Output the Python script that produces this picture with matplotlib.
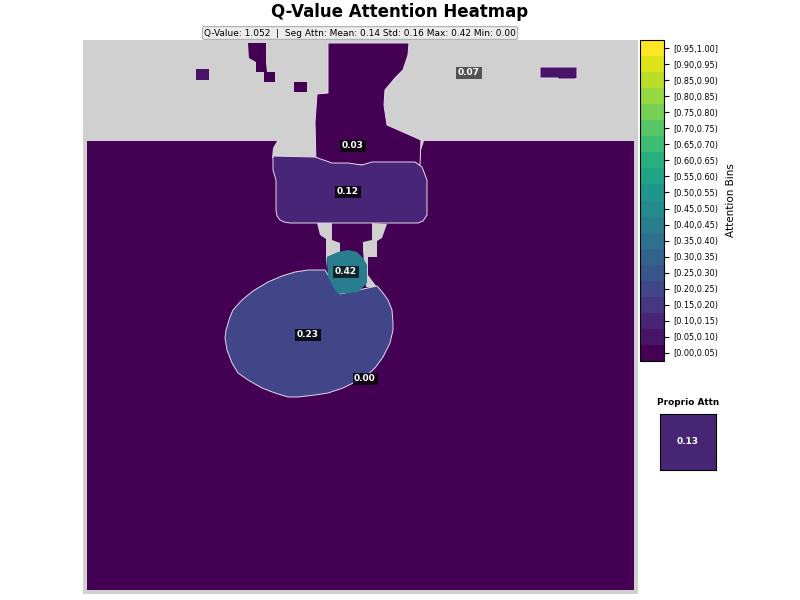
import matplotlib
matplotlib.use('Agg')
import matplotlib.pyplot as plt
from matplotlib.colors import BoundaryNorm
from matplotlib.cm import ScalarMappable
import numpy as np

# segment outlines, in picture pixels
floor_outline = [(87, 141), (277, 141), (273, 148), (272, 158), (420, 158), (421, 150), (424, 141),
                 (634, 141), (634, 590), (87, 590)]
arm_outline = [(328, 43), (409, 43), (408, 55), (403, 70), (395, 78), (385, 90), (384, 105), (387, 125),
               (403, 132), (421, 140), (420, 165), (316, 165), (315, 122), (317, 94), (328, 93)]
box_outline = [(273, 156), (315, 157), (332, 163), (348, 163), (362, 165), (372, 162), (415, 162),
               (422, 167), (427, 180), (427, 215), (423, 221), (418, 223), (290, 223), (284, 222),
               (280, 220), (277, 216), (276, 210), (276, 180), (273, 170)]
neck_left = [(317, 223), (332, 223), (332, 240), (340, 243), (340, 252), (327, 257), (326, 270), (326, 239),
             (320, 235)]
neck_right = [(372, 223), (387, 224), (382, 238), (377, 241), (377, 257), (368, 257), (368, 275), (377, 287),
              (366, 287), (363, 250), (363, 242), (372, 240)]
ellipse_outline = [(325, 270), (308, 270), (295, 272), (282, 276), (268, 282), (253, 291), (242, 300),
                   (233, 310), (230, 317), (226, 330), (225, 338), (227, 350), (232, 363), (238, 373),
                   (248, 380), (262, 388), (275, 393), (288, 397), (298, 397), (315, 395), (328, 393),
                   (343, 388), (355, 382), (365, 377), (375, 368), (383, 357), (390, 343), (393, 330),
                   (393, 323), (392, 310), (388, 300), (383, 293), (377, 286), (340, 294)]
teal_outline = [(327, 257), (338, 252), (348, 250), (357, 252), (363, 258), (367, 265), (367, 283), (358, 292),
                (338, 294), (335, 290), (328, 277)]
bit_a = [(248, 43), (266, 43), (266, 63), (267, 72), (275, 72), (275, 82), (264, 82), (264, 72), (256, 72),
         (256, 62), (249, 58)]
bit_b = [(196, 69), (209, 69), (209, 80), (196, 80)]
bit_c = [(294, 82), (307, 82), (307, 92), (294, 92)]
bit_d = [(540, 67), (577, 67), (577, 78), (575, 79), (558, 79), (558, 78), (540, 78)]

floor_value = 0.00
arm_value = 0.03
box_value = 0.12
ellipse_value = 0.23
teal_value = 0.42
bit_value = 0.07
proprio_value = 0.13

labels = ['0.03', '0.12', '0.42', '0.23', '0.00', '0.07']
label_x = [353, 348, 346, 308, 365, 469]
label_y = [146, 192, 272, 335, 379, 73]
label_alpha = [0.8, 0.8, 0.7, 0.8, 0.8, 0.6]

bin_edges = np.arange(21) * 0.05
bin_labels = ['[0.00,0.05)', '[0.05,0.10)', '[0.10,0.15)', '[0.15,0.20)', '[0.20,0.25)', '[0.25,0.30)',
              '[0.30,0.35)', '[0.35,0.40)', '[0.40,0.45)', '[0.45,0.50)', '[0.50,0.55)', '[0.55,0.60)',
              '[0.60,0.65)', '[0.65,0.70)', '[0.70,0.75)', '[0.75,0.80)', '[0.80,0.85)', '[0.85,0.90)',
              '[0.90,0.95)', '[0.95,1.00]']

cmap = plt.get_cmap('viridis', 20)
norm = BoundaryNorm(bin_edges, 20)
W, H = 800, 600
GRAY = '#d0d0d0'
EDGE = '#e6d8ee'


def px_axes(x0, y0, x1, y1):
    return fig.add_axes([x0 / W, 1 - y1 / H, (x1 - x0) / W, (y1 - y0) / H])


def draw(outline, color, edge='none'):
    xs, ys = zip(*outline)
    ax.fill(xs, ys, facecolor=color, edgecolor=edge, linewidth=0.7)


fig = plt.figure(figsize=(8, 6), dpi=100)

ax = px_axes(83, 40, 638, 594)
ax.set_xlim(83, 638)
ax.set_ylim(594, 40)
ax.set_facecolor(GRAY)
ax.set_xticks([])
ax.set_yticks([])
for s in ax.spines.values():
    s.set_visible(False)

draw(floor_outline, cmap(norm(floor_value)))
draw(arm_outline, cmap(norm(arm_value)), EDGE)
draw(box_outline, cmap(norm(box_value)), EDGE)
draw(neck_left, GRAY)
draw(neck_right, GRAY)
draw(ellipse_outline, cmap(norm(ellipse_value)), EDGE)
draw(teal_outline, cmap(norm(teal_value)))
draw(bit_a, cmap(norm(floor_value)))
draw(bit_b, cmap(norm(bit_value)))
draw(bit_c, cmap(norm(floor_value)))
draw(bit_d, cmap(norm(bit_value)), EDGE)

for t, x, y, a in zip(labels, label_x, label_y, label_alpha):
    ax.text(x, y, t, color='white', fontsize=6.5, fontweight='bold', ha='center', va='center',
            bbox=dict(facecolor='black', alpha=a, edgecolor='none', pad=1.2))

fig.text(0.5, 1 - 12 / H, 'Q-Value Attention Heatmap', fontsize=12, fontweight='bold', ha='center', va='center')
fig.text(360 / W, 1 - 33 / H, 'Q-Value: 1.052  |  Seg Attn: Mean: 0.14 Std: 0.16 Max: 0.42 Min: 0.00',
         fontsize=6.5, ha='center', va='center',
         bbox=dict(boxstyle='round,pad=0.2', facecolor='#ececec', edgecolor='#999999', linewidth=0.6))

cax = px_axes(640, 40, 664, 361)
sm = ScalarMappable(norm=norm, cmap=cmap)
cbar = fig.colorbar(sm, cax=cax, spacing='proportional')
cbar.set_ticks((bin_edges[:-1] + bin_edges[1:]) / 2)
cbar.set_ticklabels(bin_labels)
cbar.ax.tick_params(labelsize=5.9, length=3.5, width=0.8, pad=3)
cbar.ax.minorticks_off()
cbar.set_label('Attention Bins', fontsize=7.5, labelpad=6)

pax = px_axes(660, 414, 716, 470)
pax.imshow([[proprio_value]], cmap=cmap, norm=norm, aspect='auto')
pax.set_xticks([])
pax.set_yticks([])
pax.set_title('Proprio Attn', fontsize=6.4, fontweight='bold', pad=6.5)
pax.text(0, 0, f'{proprio_value:.2f}', color='white', fontsize=6.5, fontweight='bold', ha='center', va='center')

fig.savefig('out.png', dpi=100)
